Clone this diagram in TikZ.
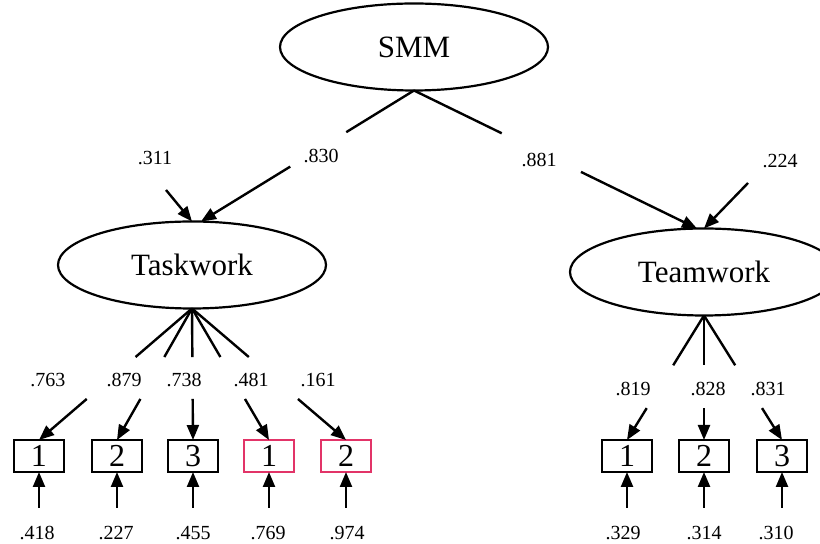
\documentclass[tikz,border=0pt]{standalone}
\usepackage{fontspec}
\setmainfont{Liberation Serif}
\usepackage{xcolor}
\usepackage{tikz}
\usetikzlibrary{arrows.meta,calc,shapes.geometric}

\definecolor{itemred}{RGB}{226,52,104}

\begin{document}
\begin{tikzpicture}[
  x=0.5pt, y=-0.5pt,
  latent/.style={draw, ellipse, line width=1.1pt, minimum width=134pt, minimum height=43.5pt, inner sep=0pt, outer sep=0pt, font=\fontsize{15.5}{18}\selectfont},
  item/.style={draw, rectangle, line width=1.2pt, minimum width=25pt, minimum height=16pt, inner sep=0pt, outer sep=0pt, font=\fontsize{16}{18}\selectfont},
  dropped/.style={item, draw=itemred},
  val/.style={inner sep=0pt, font=\fontsize{10}{12}\selectfont},
  edge/.style={line width=1.2pt},
  arrow/.style={-{Triangle[length=7.5pt,width=6pt]}, line width=1.2pt}
]
\useasboundingbox (0,0) rectangle (820,544);

\node[latent] (smm) at (414,47) {SMM};
\node[latent] (task) at (192,265) {Taskwork};
\node[latent] (team) at (704,272) {Teamwork};

\node[item] (t1) at (39,456) {1};
\node[item] (t2) at (117,456) {2};
\node[item] (t3) at (193,456) {3};
\node[dropped] (t4) at (269,456) {1};
\node[dropped] (t5) at (346,456) {2};

\node[item] (m1) at (627,456) {1};
\node[item] (m2) at (704,456) {2};
\node[item] (m3) at (782,456) {3};

% loadings and residuals
\node[val] (l830) at (321,156) {.830};
\node[val] (l881) at (539,160) {.881};
\node[val] (r311) at (155,158) {.311};
\node[val] (r224) at (780,161) {.224};

\node[val] (l763) at (48,380) {.763};
\node[val] (l879) at (124,380) {.879};
\node[val] (l738) at (184,380) {.738};
\node[val] (l481) at (251,380) {.481};
\node[val] (l161) at (318,380) {.161};

\node[val] (l819) at (633,389) {.819};
\node[val] (l828) at (708,389) {.828};
\node[val] (l831) at (768,389) {.831};

\node[val] (e418) at (37,533) {.418};
\node[val] (e227) at (116,533) {.227};
\node[val] (e455) at (193,533) {.455};
\node[val] (e769) at (268,533) {.769};
\node[val] (e974) at (347,533) {.974};
\node[val] (e329) at (623,533) {.329};
\node[val] (e314) at (704,533) {.314};
\node[val] (e310) at (776,533) {.310};

% arrow ends
\coordinate (taskin) at ($(task.north)+(9,0)$);
\coordinate (teamin) at ($(team.north)+(-7,0)$);
\coordinate (d311) at (166,190);
\coordinate (d224) at (748,183);

% second order
\draw[edge] (smm.south) -- ($(smm.south)!0.318!(taskin)$);
\draw[arrow] ($(smm.south)!0.581!(taskin)$) -- (taskin);
\draw[edge] (smm.south) -- ($(smm.south)!0.31!(teamin)$);
\draw[arrow] ($(smm.south)!0.59!(teamin)$) -- (teamin);
\draw[arrow] (d311) -- (task.north);
\draw[arrow] (d224) -- (team.north);

% taskwork items
\draw[edge] (task.south) -- ($(task.south)!0.369!(t1.north)$);
\draw[arrow] ($(task.south)!0.688!(t1.north)$) -- (t1.north);
\draw[edge] (task.south) -- ($(task.south)!0.369!(t2.north)$);
\draw[arrow] ($(task.south)!0.688!(t2.north)$) -- (t2.north);
\draw[edge] (task.south) -- ($(task.south)!0.369!(t3.north)$);
\draw[arrow] ($(task.south)!0.688!(t3.north)$) -- (t3.north);
\draw[edge] (task.south) -- ($(task.south)!0.369!(t4.north)$);
\draw[arrow] ($(task.south)!0.688!(t4.north)$) -- (t4.north);
\draw[edge] (task.south) -- ($(task.south)!0.369!(t5.north)$);
\draw[arrow] ($(task.south)!0.688!(t5.north)$) -- (t5.north);

% teamwork items
\draw[edge] (team.south) -- ($(team.south)!0.40!(m1.north)$);
\draw[arrow] ($(team.south)!0.744!(m1.north)$) -- (m1.north);
\draw[edge] (team.south) -- ($(team.south)!0.40!(m2.north)$);
\draw[arrow] ($(team.south)!0.744!(m2.north)$) -- (m2.north);
\draw[edge] (team.south) -- ($(team.south)!0.40!(m3.north)$);
\draw[arrow] ($(team.south)!0.744!(m3.north)$) -- (m3.north);

% item residuals
\draw[arrow] ($(t1.south)+(0,36)$) -- (t1.south);
\draw[arrow] ($(t2.south)+(0,36)$) -- (t2.south);
\draw[arrow] ($(t3.south)+(0,36)$) -- (t3.south);
\draw[arrow] ($(t4.south)+(0,36)$) -- (t4.south);
\draw[arrow] ($(t5.south)+(0,36)$) -- (t5.south);
\draw[arrow] ($(m1.south)+(0,36)$) -- (m1.south);
\draw[arrow] ($(m2.south)+(0,36)$) -- (m2.south);
\draw[arrow] ($(m3.south)+(0,36)$) -- (m3.south);
\end{tikzpicture}
\end{document}
